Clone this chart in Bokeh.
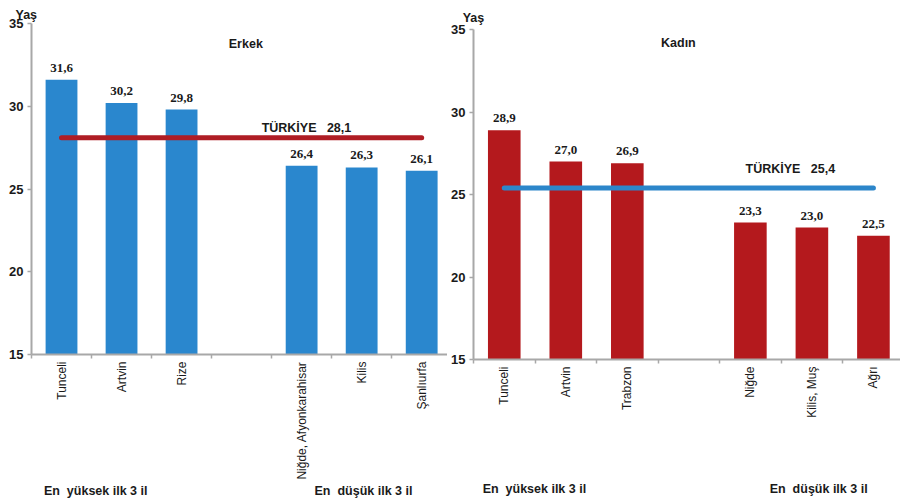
import math
from bokeh.plotting import figure
from bokeh.layouts import row, column
from bokeh.models import ColumnDataSource, LabelSet, Label, FixedTicker, LinearAxis
from bokeh.embed import file_html
from bokeh.resources import INLINE

# Median age at first marriage by province (years)
men_provinces = ["Tunceli", "Artvin", "Rize", "Niğde, Afyonkarahisar", "Kilis", "Şanlıurfa"]
men_values = [31.6, 30.2, 29.8, 26.4, 26.3, 26.1]
men_turkey = 28.1

women_provinces = ["Tunceli", "Artvin", "Trabzon", "Niğde", "Kilis, Muş", "Ağrı"]
women_values = [28.9, 27.0, 26.9, 23.3, 23.0, 22.5]
women_turkey = 25.4

# top three, an empty slot, bottom three
slots = [0, 1, 2, 4, 5, 6]
y_ticks = [15, 20, 25, 30, 35]
group_labels = ["En\u00a0\u00a0yüksek ilk 3 il", "En\u00a0\u00a0düşük ilk 3 il"]

FONT = "Liberation Sans"
TXT = "#1a1a1a"
AXIS = "#A8A8A8"
BLUE = "#2A87CE"
RED = "#B4191D"
RED_LINE = "#AF1D24"
BLUE_LINE = "#2C86CA"
NB = "\u00a0"


def fmt(v):
    return f"{v:.1f}".replace(".", ",")


def caption_axis(ticks, labels, standoff, size="12.5px"):
    ax = LinearAxis(ticker=FixedTicker(ticks=ticks, minor_ticks=[]),
                    major_label_overrides={x: t for x, t in zip(ticks, labels)})
    ax.axis_line_color = None
    ax.major_tick_line_color = None
    ax.minor_tick_line_color = None
    ax.major_tick_out = 0
    ax.major_tick_in = 0
    ax.major_label_standoff = standoff
    ax.major_label_text_font = FONT
    ax.major_label_text_font_style = "bold"
    ax.major_label_text_font_size = size
    ax.major_label_text_color = TXT
    return ax


def make_panel(provinces, values, avg, bar_color, line_color, width,
               border_left, border_top, frame_h, x_end, title, title_x,
               title_dy, avg_x, avg_dy, yas_text, yas_standoff, group_x,
               group_standoff):
    border_bottom = 502 - border_top - frame_h
    p = figure(width=width, height=502, x_range=(0, x_end), y_range=(15, 35),
               output_backend="svg", toolbar_location=None,
               min_border_left=border_left, min_border_right=0,
               min_border_top=border_top, min_border_bottom=border_bottom)
    p.outline_line_color = None
    p.xgrid.grid_line_color = None
    p.ygrid.grid_line_color = None
    p.background_fill_color = "white"
    p.border_fill_color = "white"

    xs = [s + 0.5 for s in slots]
    src = ColumnDataSource(dict(x=xs, top=values, lab=[fmt(v) for v in values]))
    p.vbar(x="x", top="top", bottom=15, width=0.53, source=src,
           fill_color=bar_color, line_color=None)

    # national average line from first to last bar
    p.segment(x0=[xs[0]], y0=[avg], x1=[xs[-1]], y1=[avg],
              line_color=line_color, line_width=5, line_cap="round")

    p.add_layout(LabelSet(x="x", y="top", text="lab", source=src,
                          y_offset=8, text_align="center",
                          text_baseline="alphabetic", text_font=FONT,
                          text_font_style="bold", text_font_size="13px",
                          text_color=TXT))

    # value axis
    ya = p.left[0]
    ya.ticker = FixedTicker(ticks=y_ticks)
    ya.axis_line_color = AXIS
    ya.axis_line_width = 2
    ya.major_tick_line_color = AXIS
    ya.major_tick_line_width = 1.5
    ya.major_tick_out = 4
    ya.major_tick_in = 0
    ya.minor_tick_line_color = None
    ya.major_label_standoff = 4
    ya.major_label_text_font = FONT
    ya.major_label_text_font_style = "bold"
    ya.major_label_text_font_size = "13px"
    ya.major_label_text_color = TXT

    # province axis: names at bar centres, ticks at slot boundaries
    xa = p.below[0]
    xa.ticker = FixedTicker(ticks=xs, minor_ticks=list(range(0, 8)))
    xa.major_label_overrides = {x: n for x, n in zip(xs, provinces)}
    xa.major_label_orientation = math.pi / 2
    xa.axis_line_color = AXIS
    xa.axis_line_width = 2
    xa.major_tick_line_color = None
    xa.minor_tick_line_color = AXIS
    xa.minor_tick_line_width = 1.5
    xa.minor_tick_out = 4
    xa.minor_tick_in = 0
    xa.major_tick_out = 4
    xa.major_tick_in = 0
    xa.major_label_standoff = 3
    xa.major_label_text_font = FONT
    xa.major_label_text_font_size = "12px"
    xa.major_label_text_color = TXT

    # "Yaş" unit caption above the value axis
    p.add_layout(caption_axis([0], [yas_text], yas_standoff), "above")

    # group captions under the province names
    p.add_layout(caption_axis(group_x, group_labels, group_standoff), "below")

    def lab(text, x, y, dy):
        p.add_layout(Label(x=x, y=y, y_offset=dy, text=text,
                           text_align="center", text_baseline="alphabetic",
                           text_font=FONT, text_font_style="bold",
                           text_font_size="12.5px", text_color=TXT))

    lab(title, title_x, 35, title_dy)
    lab(f"TÜRKİYE{NB}{NB}{NB}{fmt(avg)}", avg_x, avg, avg_dy)
    return p


left = make_panel(men_provinces, men_values, men_turkey, BLUE, RED_LINE,
                  width=447, border_left=31, border_top=23, frame_h=331,
                  x_end=6.93, title="Erkek", title_x=3.57, title_dy=-20,
                  avg_x=4.58, avg_dy=10, yas_text=f"Yaş{NB}{NB}{NB}",
                  yas_standoff=2, group_x=[1.07, 5.53], group_standoff=1)

right = make_panel(women_provinces, women_values, women_turkey, RED, BLUE_LINE,
                   width=453, border_left=26, border_top=29, frame_h=330,
                   x_end=6.94, title="Kadın", title_x=3.33, title_dy=-13,
                   avg_x=5.15, avg_dy=19, yas_text="Yaş",
                   yas_standoff=5, group_x=[0.99, 5.61], group_standoff=61)

# each chart in its own column so their frames are laid out independently
layout = row(column(left), column(right))
open("out.html", "w").write(file_html(layout, INLINE))
